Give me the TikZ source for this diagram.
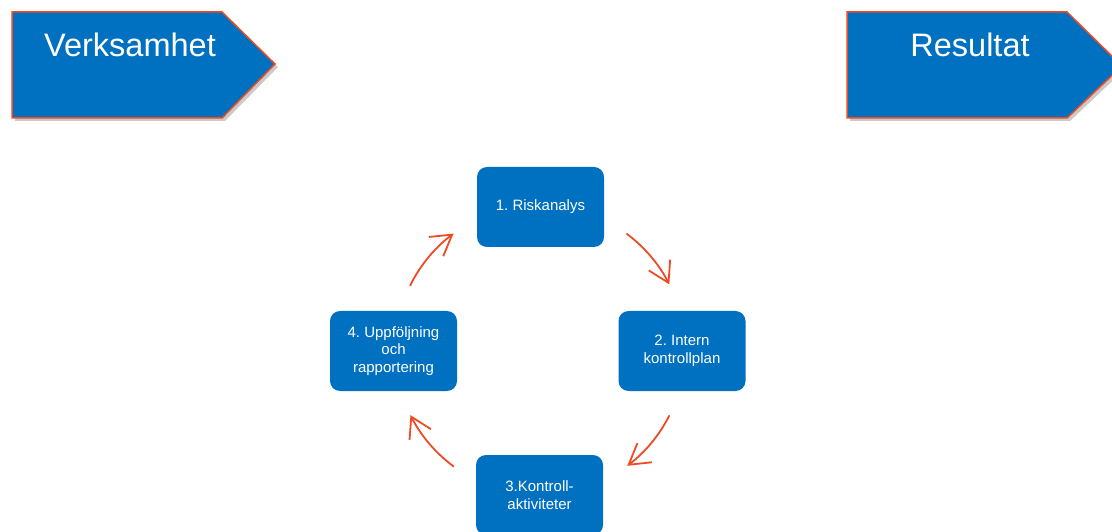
\documentclass[tikz,border=0pt]{standalone}
\usepackage{fontspec}
\setmainfont{Liberation Sans}
\usetikzlibrary{arrows.meta,shadows}
\definecolor{boxblue}{HTML}{0070C0}
\definecolor{edgered}{HTML}{EE4A24}
\frenchspacing
\tikzset{
  banner/.style={fill=boxblue, draw=edgered, line width=1.5pt, line join=miter,
    drop shadow={shadow xshift=3pt, shadow yshift=-3pt, opacity=0.35, fill=black!60}},
  bannertext/.style={text=white, font=\fontsize{32.5}{36}\selectfont, inner sep=0pt},
  stepbox/.style={fill=boxblue, rounded corners=10pt, minimum width=127pt, minimum height=80pt,
    text=white, align=center, inner sep=2pt, font=\fontsize{15}{17.5}\selectfont},
  cyclearrow/.style={draw=edgered, line width=1.8pt, line cap=round,
    -{Straight Barb[length=20pt,width=24pt,line width=1.8pt]}}
}
\begin{document}
\begin{tikzpicture}[x=1pt,y=1pt]
\useasboundingbox (0,0) rectangle (1112,531);
% banners
\path[banner] (12,519) -- (222,519) -- (275,467) -- (222,413) -- (12,413) -- cycle;
\node[bannertext] (verk) at (130,486) {Verksamhet};
\path[banner] (847,519) -- (1067,519) -- (1122,465) -- (1067,413) -- (847,413) -- cycle;
\node[bannertext] (res) at (970,486) {Resultat};
% boxes
\node[stepbox] (s1) at (540.5,324) {1. Riskanalys};
\node[stepbox] (s2) at (682,180) {2. Intern\\kontrollplan};
\node[stepbox] (s3) at (539.5,36) {3.Kontroll-\\aktiviteter};
\node[stepbox] (s4) at (393.5,180) {4. Uppföljning\\och\\rapportering};
% cycle arrows
\coordinate (c) at (540,181);
\draw[cyclearrow] ([shift={(53.2:145)}]c) arc[start angle=53.2, end angle=26.9, radius=145];
\draw[cyclearrow] ([shift={(-27:145)}]c) arc[start angle=-27, end angle=-53, radius=145];
\draw[cyclearrow] ([shift={(233.4:145)}]c) arc[start angle=233.4, end angle=206.7, radius=145];
\draw[cyclearrow] ([shift={(153.6:145)}]c) arc[start angle=153.6, end angle=126.6, radius=145];
\end{tikzpicture}
\end{document}
